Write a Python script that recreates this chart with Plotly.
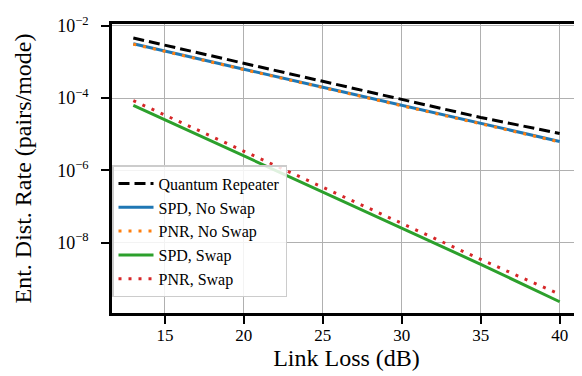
import plotly.graph_objects as go

link_loss = [13, 15, 20, 25, 30, 35, 40]
quantum_repeater = [4.6e-3, 2.9e-3, 9.2e-4, 2.9e-4, 9.2e-5, 2.9e-5, 1.05e-5]
spd_no_swap = [3.2e-3, 2.0e-3, 6.3e-4, 2.0e-4, 6.3e-5, 2.0e-5, 6.3e-6]
pnr_no_swap = [3.1e-3, 1.95e-3, 6.1e-4, 1.95e-4, 6.1e-5, 1.95e-5, 6.1e-6]
spd_swap = [6.3e-5, 2.5e-5, 2.5e-6, 2.5e-7, 2.5e-8, 2.5e-9, 2.3e-10]
pnr_swap = [8.5e-5, 3.4e-5, 3.4e-6, 3.4e-7, 3.4e-8, 3.4e-9, 3.7e-10]

x_ticks = [15, 20, 25, 30, 35, 40]
y_ticks = [1e-8, 1e-6, 1e-4, 1e-2]
y_ticktext = ["10<sup>−8</sup>", "10<sup>−6</sup>", "10<sup>−4</sup>", "10<sup>−2</sup>"]

FONT = "Liberation Serif"

fig = go.Figure()
series = [
    ("Quantum Repeater", quantum_repeater, "black", "11px,5px"),
    ("SPD, No Swap", spd_no_swap, "#1f77b4", "solid"),
    ("PNR, No Swap", pnr_no_swap, "#ff7f0e", "3px,7px"),
    ("SPD, Swap", spd_swap, "#2ca02c", "solid"),
    ("PNR, Swap", pnr_swap, "#d62728", "3px,7px"),
]
for name, ys, color, dash in series:
    fig.add_trace(go.Scatter(x=link_loss, y=ys, mode="lines", name=name,
                             line=dict(color=color, width=3, dash=dash)))

fig.update_layout(
    width=582, height=376,
    margin=dict(l=104, r=6, t=14, b=71),
    paper_bgcolor="white", plot_bgcolor="white",
    font=dict(family=FONT, size=17, color="black"),
    showlegend=True,
    legend=dict(
        x=0.0, y=0.055, xanchor="left", yanchor="bottom",
        bgcolor="rgba(255,255,255,0.85)", bordercolor="#cccccc", borderwidth=1.5,
        font=dict(family=FONT, size=16), tracegroupgap=0,
        itemwidth=35,
    ),
    xaxis=dict(
        range=[11.65, 41.35], tickvals=x_ticks,
        showgrid=True, gridcolor="#b0b0b0", gridwidth=1.2,
        showline=True, linecolor="black", linewidth=2.5, mirror=True,
        ticks="outside", ticklen=8, tickwidth=2, tickcolor="black",
        tickfont=dict(size=17), ticklabelstandoff=-3,
        title=dict(text="Link Loss (dB)", font=dict(size=24), standoff=3),
        zeroline=False,
    ),
    yaxis=dict(
        type="log", range=[-9.95, -1.95], tickvals=y_ticks, ticktext=y_ticktext,
        showgrid=True, gridcolor="#b0b0b0", gridwidth=1.2,
        showline=True, linecolor="black", linewidth=2.5, mirror=True,
        ticks="outside", ticklen=8, tickwidth=2, tickcolor="black",
        tickfont=dict(size=18), ticklabelstandoff=9,
        title=dict(text="Ent. Dist. Rate (pairs/mode)", font=dict(size=24), standoff=19),
        zeroline=False,
    ),
)

fig.write_html("out.html")
